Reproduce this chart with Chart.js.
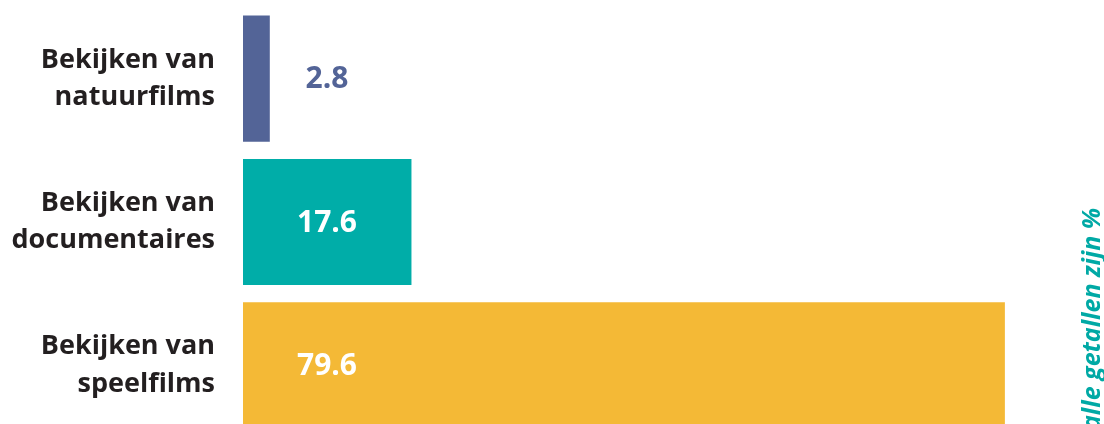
<!DOCTYPE html>
<html>
<head>
<meta charset="utf-8">
<script src="https://cdn.jsdelivr.net/npm/chart.js@4"></script>
<style>
  html, body { margin: 0; padding: 0; background: #fff; overflow: hidden; }
  #wrap { position: relative; width: 1104px; height: 424px; overflow: hidden; }
  #note {
    position: absolute; left: 1075px; top: 430px;
    transform: rotate(-90deg); transform-origin: left top;
    white-space: nowrap;
    font: italic bold 25px "Open Sans", sans-serif; line-height: 30px;
    color: #00a9a5;
  }
</style>
</head>
<body>
<div id="wrap">
  <canvas id="mycanvas" width="1104" height="437"></canvas>
  <div id="note">alle getallen zijn %</div>
</div>
<script>
var categories = [
  ["Bekijken van", "natuurfilms"],
  ["Bekijken van", "documentaires"],
  ["Bekijken van", "speelfilms"]
];
var values = [2.8, 17.6, 79.6];
var barColors = ["#536497", "#00ada8", "#f4b936"];
var valueColors = ["#536497", "#ffffff", "#ffffff"];

var valueLabels = {
  id: 'valueLabels',
  afterDatasetsDraw: function(chart) {
    var ctx = chart.ctx;
    var meta = chart.getDatasetMeta(0);
    var x0 = chart.scales.x.getPixelForValue(0);
    ctx.save();
    ctx.font = 'bold 30px "Open Sans", sans-serif';
    ctx.textAlign = 'center';
    ctx.textBaseline = 'middle';
    meta.data.forEach(function(bar, i) {
      ctx.fillStyle = valueColors[i];
      ctx.fillText(values[i].toFixed(1), x0 + 84, bar.y + 1);
    });
    ctx.restore();
  }
};

var chartdata = {
  labels: categories,
  datasets: [{
    data: values,
    backgroundColor: barColors,
    borderWidth: 0,
    categoryPercentage: 1,
    barPercentage: 0.88
  }]
};

new Chart(document.getElementById("mycanvas"), {
  type: 'bar',
  data: chartdata,
  plugins: [valueLabels],
  options: {
    indexAxis: 'y',
    responsive: false,
    animation: false,
    layout: { padding: { left: 0, right: 57, top: 7, bottom: 0 } },
    plugins: { legend: { display: false }, tooltip: { enabled: false } },
    scales: {
      x: {
        min: 0, max: 84,
        display: false
      },
      y: {
        grid: { display: false, drawTicks: false },
        border: { display: false },
        afterFit: function(scale) {
          scale.width = 243;
          scale.paddingTop = 0;
          scale.paddingBottom = 0;
        },
        ticks: {
          color: '#231f20',
          padding: 28,
          font: { family: '"Open Sans", sans-serif', weight: 'bold', size: 27, lineHeight: 1.38 }
        }
      }
    }
  }
});
</script>
</body>
</html>
